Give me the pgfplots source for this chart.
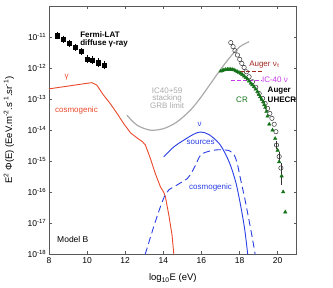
\documentclass[border=0pt]{standalone}
\usepackage{pgfplots}
\pgfplotsset{compat=1.18}
\usepackage{fontspec}
\setmainfont{Liberation Sans}
\definecolor{cred}{RGB}{234,72,42}
\definecolor{cgrey}{RGB}{170,170,170}
\definecolor{cblue}{RGB}{40,62,228}
\definecolor{cgreen}{RGB}{20,115,25}
\definecolor{cdred}{RGB}{160,40,30}
\definecolor{cmag}{RGB}{200,60,235}
\begin{document}
\fontsize{8}{9.6}\selectfont
\begin{tikzpicture}
\useasboundingbox (0,0) rectangle (333pt,288pt);
\begin{axis}[
  at={(49pt,33.7pt)}, anchor=south west,
  scale only axis, width=247.7pt, height=248.3pt,
  xmin=8, xmax=21, ymin=-18, ymax=-10,
  xtick={8,10,...,20}, ytick={-18,-17,...,-11},
  yticklabels={10\textsuperscript{-18},10\textsuperscript{-17},10\textsuperscript{-16},10\textsuperscript{-15},10\textsuperscript{-14},10\textsuperscript{-13},10\textsuperscript{-12},10\textsuperscript{-11}},
  /pgf/number format/assume math mode=true,
  tick align=inside, major tick length=3pt,
  axis line style={black!65}, tick style={black!65, line width=0.6pt},
  ticklabel style={font=\fontsize{8.5}{10}\selectfont},
  xlabel={log\textsubscript{10}E (eV)},
  ylabel={E\textsuperscript{2} Φ(E) (EeV.m\textsuperscript{-2}.s\textsuperscript{-1}.sr\textsuperscript{-1})},
  every axis x label/.style={at={(axis description cs:0.5,-0.097)},anchor=center,font=\fontsize{9.5}{11}\selectfont},
  every axis y label/.style={at={(axis description cs:-0.162,0.5)},rotate=90,anchor=center,font=\fontsize{9.5}{11}\selectfont},
  clip=true,
]
% gamma cosmogenic
\addplot[cred, line width=0.9pt] coordinates {
(8.0,-12.67) (9.0,-12.58) (10.0,-12.49) (10.25,-12.47) (10.51,-12.55) (10.86,-12.87)
(11.21,-13.14) (11.57,-13.46) (11.91,-13.78) (12.27,-14.08) (12.62,-14.25) (12.9,-14.37)
(13.06,-14.48) (13.32,-14.91) (13.58,-15.40) (13.85,-15.83) (14.02,-16.0) (14.11,-16.15)
(14.29,-16.74) (14.46,-17.39) (14.55,-18.0)};
% IC40+59 GRB limit
\addplot[cgrey, line width=1.2pt, smooth] coordinates {
(12.09,-13.52) (12.62,-13.84) (13.32,-14.00) (14.02,-13.95) (14.73,-13.73) (15.43,-13.35)
(15.96,-12.95) (16.48,-12.50) (17.0,-12.05) (17.5,-11.65) (18.0,-11.32) (18.5,-11.15)};
% nu sources
\addplot[cblue, line width=0.9pt, smooth] coordinates {
(14.02,-14.86) (14.55,-14.54) (15.08,-14.32) (15.60,-14.13) (15.96,-14.06) (16.39,-14.14)
(16.92,-14.42) (17.27,-14.78) (17.54,-15.16) (17.80,-15.67) (17.97,-16.15) (18.15,-16.74)
(18.29,-17.28) (18.43,-18.0)};
% nu cosmogenic
\addplot[cblue, line width=0.9pt, smooth, dash pattern=on 7pt off 4pt] coordinates {
(13.05,-18.0) (13.41,-17.28) (13.76,-16.62) (14.05,-16.15) (14.3,-15.92) (14.55,-15.83)
(14.9,-15.7) (15.26,-15.56) (15.5,-15.35) (15.69,-15.13) (15.96,-14.8) (16.39,-14.68)
(16.92,-14.63) (17.45,-14.66) (17.72,-14.8) (17.89,-15.1) (18.06,-15.6) (18.24,-16.1)
(18.45,-16.75) (18.65,-17.4) (18.82,-18.0)};
% Fermi-LAT
\addplot[black, only marks, mark=square*, mark size=2.1pt,
  error bars/.cd, y dir=both, y explicit, error bar style={line width=0.6pt}, error mark options={mark size=1.2pt, line width=0.6pt}] coordinates {
(8.44,-10.96) +- (0,0.08) (8.75,-11.07) +- (0,0.08) (9.07,-11.20) +- (0,0.08)
(9.39,-11.33) +- (0,0.08) (9.69,-11.46) +- (0,0.08) (9.99,-11.71) +- (0,0.1)
(10.28,-11.74) +- (0,0.1) (10.60,-11.83) +- (0,0.1) (10.90,-11.90) +- (0,0.1)};
% Auger nu_tau and IC-40 nu limits
\addplot[cdred, line width=0.9pt, dash pattern=on 4pt off 2pt] coordinates {(17.7,-12.12) (19.2,-12.12)};
\addplot[cmag, line width=0.9pt, dash pattern=on 4pt off 2pt] coordinates {(17.54,-12.39) (19.12,-12.39)};
% Auger UHECR
\addplot[black!80, only marks, mark=o, mark size=2.2pt, mark options={line width=0.5pt}] coordinates {
(17.54,-11.18) (17.66,-11.31) (17.76,-11.44) (17.89,-11.58) (18.01,-11.72) (18.12,-11.85)
(18.24,-11.98) (18.36,-12.12) (18.50,-12.28) (18.68,-12.44) (18.85,-12.62) (19.03,-12.82)
(19.21,-12.98) (19.34,-13.14) (19.47,-13.30) (19.59,-13.46) (19.70,-13.62) (19.82,-13.81)
(19.91,-14.05)};
\addplot[black!80, only marks, mark=o, mark size=2.2pt, mark options={line width=0.5pt},
  error bars/.cd, y dir=both, y explicit, error bar style={line width=0.5pt}, error mark options={mark size=1pt}] coordinates {
(19.94,-14.48) +- (0,0.1) (20.08,-14.85) +- (0,0.12) (20.17,-15.22) += (0,0.13) -= (0,0.5)};
% CR
\addplot[cgreen, only marks, mark=triangle*, mark size=2pt] coordinates {
(17.01,-12.10) (17.10,-12.08) (17.18,-12.06) (17.27,-12.05) (17.36,-12.04) (17.45,-12.04)
(17.54,-12.04) (17.62,-12.05) (17.71,-12.06) (17.80,-12.09) (17.89,-12.12) (17.97,-12.14)
(18.06,-12.17) (18.15,-12.21) (18.24,-12.26) (18.33,-12.31) (18.42,-12.36) (18.50,-12.42)
(18.59,-12.49) (18.67,-12.54) (18.76,-12.60) (18.85,-12.68) (18.94,-12.76) (19.01,-12.85)
(19.08,-12.93) (19.16,-13.01) (19.24,-13.09) (19.30,-13.18) (19.35,-13.27) (19.41,-13.40)
(19.47,-13.55) (19.56,-13.81) (19.73,-14.0) (19.87,-14.27) (20.00,-14.65) (20.08,-15.02)
(20.21,-15.48) (20.29,-15.99) (20.40,-16.64)};
% labels
\node[anchor=west, font=\bfseries\fontsize{8}{9}\selectfont, inner sep=0pt] at (9.63,-10.91) {Fermi-LAT};
\node[anchor=west, font=\bfseries\fontsize{8}{9}\selectfont, inner sep=0pt] at (9.63,-11.20) {diffuse γ-ray};
\node[cred, anchor=center, inner sep=0pt] at (8.93,-12.28) {γ};
\node[cred, anchor=center, inner sep=0pt] at (9.44,-13.35) {cosmogenic};
\node[cgrey, align=center, inner sep=0pt, font=\fontsize{8}{7.6}\selectfont] at (14.2,-12.96) {IC40+59\\stacking\\GRB limit};
\node[cblue, anchor=center, inner sep=0pt] at (15.9,-13.8) {ν};
\node[cblue, anchor=center, inner sep=0pt] at (15.96,-14.40) {sources};
\node[cblue, anchor=center, inner sep=0pt] at (16.48,-15.86) {cosmogenic};
\node[cgreen, anchor=center, inner sep=0pt] at (18.13,-13.01) {CR};
\node[anchor=west, font=\bfseries\fontsize{8}{9}\selectfont, inner sep=0pt] at (19.47,-12.74) {Auger};
\node[anchor=west, font=\bfseries\fontsize{8}{9}\selectfont, inner sep=0pt] at (19.47,-13.01) {UHECR};
\node[cdred, anchor=west, inner sep=0pt] at (18.50,-11.90) {Auger ν\textsubscript{τ}};
\node[cmag, anchor=west, inner sep=0pt] at (19.17,-12.39) {IC-40 ν};
\node[anchor=west, inner sep=0pt, font=\fontsize{8.5}{10}\selectfont] at (8.42,-17.53) {Model B};
\end{axis}
\end{tikzpicture}
\end{document}
